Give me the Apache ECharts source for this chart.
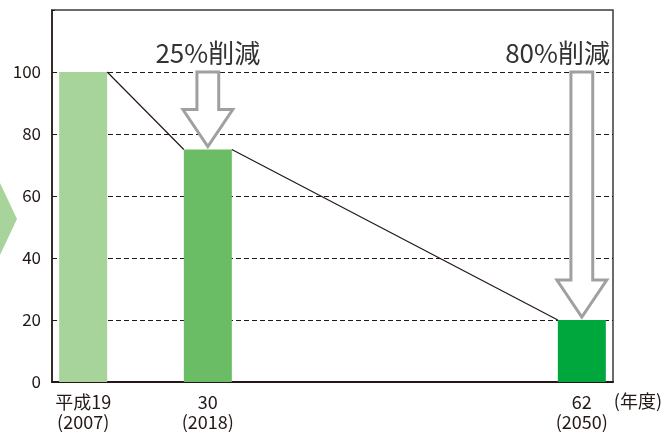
<!DOCTYPE html>
<html>
<head>
<meta charset="utf-8">
<script src="https://cdn.jsdelivr.net/npm/echarts@6/dist/echarts.min.js"></script>
<style>
  html, body { margin: 0; padding: 0; background: #fff; }
  #main { width: 669px; height: 432px; }
</style>
</head>
<body>
<div id="main"></div>
<script>
// 年度スロット (9区分), ラベルは3か所のみ
var tickLabels = ['平成19\n(2007)', '', '30\n(2018)', '', '', '', '', '', '62\n(2050)'];
var values = [100, null, 75, null, null, null, null, null, 20];
var barColors = ['#a6d49a', null, '#6bbd65', null, null, null, null, null, '#00a73c'];
// 削減矢印: [区分, 基準値, 目標値]
var arrows = [[2, 100, 75], [8, 100, 20]];
var arrowLabels = ['25%削減', '80%削減'];
var yTicks = [0, 20, 40, 60, 80, 100];

var FONT = '"Noto Sans CJK JP", "Noto Sans", sans-serif';
var INK = '#231815';
var BAR_RATIO = 0.77;

// 棒の上端を結ぶ線 (右上角 → 次の棒の左上角)
var connectors = [];
var prev = null;
values.forEach(function (v, i) {
  if (v == null) return;
  if (prev) connectors.push([prev[0], prev[1], i, v]);
  prev = [i, v];
});

var chart = echarts.init(document.getElementById('main'));
chart.setOption({
  animation: false,
  textStyle: { fontFamily: FONT },
  grid: {
    left: 52, right: 56, top: 10, bottom: 49,
    show: true, borderColor: '#3e3a39', borderWidth: 1.5
  },
  graphic: [{
    type: 'polygon',
    shape: { points: [[0, 183], [17, 219], [0, 255]] },
    style: { fill: '#a8d49b' }
  }],
  xAxis: {
    type: 'category',
    data: tickLabels.map(function (t, i) { return 'c' + i; }),
    boundaryGap: true,
    axisLine: { lineStyle: { color: INK, width: 2 } },
    axisTick: { inside: true, length: 10, lineStyle: { color: INK, width: 1.5 } },
    axisLabel: {
      interval: 0,
      margin: 10,
      color: INK,
      fontSize: 18,
      lineHeight: 20,
      formatter: function (v, i) { return tickLabels[i]; }
    },
    name: '(年度)',
    nameLocation: 'end',
    nameGap: -5,
    nameTextStyle: { color: INK, fontSize: 18, verticalAlign: 'top', align: 'left', padding: [10, 0, 0, 0] }
  },
  yAxis: {
    type: 'value',
    min: 0, max: 120, interval: 20,
    axisLine: { show: true, lineStyle: { color: INK, width: 1.5 } },
    axisTick: { show: true, inside: true, length: 3, lineStyle: { color: INK } },
    axisLabel: {
      color: INK, fontSize: 17, margin: 11,
      formatter: function (v) { return yTicks.indexOf(v) >= 0 ? String(v) : ''; }
    },
    splitLine: { showMaxLine: false, lineStyle: { color: INK, width: 1, type: [5, 3] } }
  },
  series: [
    {
      type: 'bar',
      barWidth: (BAR_RATIO * 100) + '%',
      z: 3,
      data: values.map(function (v, i) {
        return v == null ? '-' : { value: v, itemStyle: { color: barColors[i] } };
      })
    },
    {
      type: 'custom',
      z: 4,
      encode: { x: [0, 2], y: [1, 3] },
      data: connectors,
      renderItem: function (params, api) {
        var p0 = api.coord([api.value(0), api.value(1)]);
        var p1 = api.coord([api.value(2), api.value(3)]);
        var half = api.size([1, 0])[0] * BAR_RATIO / 2;
        return {
          type: 'line',
          shape: { x1: p0[0] + half, y1: p0[1], x2: p1[0] - half, y2: p1[1] },
          style: { stroke: INK, lineWidth: 1.2 }
        };
      }
    },
    {
      type: 'custom',
      z: 5,
      encode: { x: 0, y: [1, 2] },
      data: arrows,
      renderItem: function (params, api) {
        var top = api.coord([api.value(0), api.value(1)]);
        var tip = api.coord([api.value(0), api.value(2)]);
        var bw = api.size([1, 0])[0];
        var cx = top[0];
        var sw = bw * 0.175, hw = bw * 0.4;
        var tipY = tip[1] - 3;
        var headY = tipY - 37;
        var cs = params.coordSys;
        var label = arrowLabels[params.dataIndex];
        var rightEdge = cs.x + cs.width;
        var align = 'center', tx = cx;
        if (cx + 60 > rightEdge) { align = 'right'; tx = rightEdge - 3; }
        return {
          type: 'group',
          children: [
            {
              type: 'polygon',
              shape: {
                points: [
                  [cx - sw, top[1]], [cx + sw, top[1]], [cx + sw, headY],
                  [cx + hw, headY], [cx, tipY], [cx - hw, headY], [cx - sw, headY]
                ]
              },
              style: { fill: '#fff', stroke: '#a0a0a0', lineWidth: 3, lineJoin: 'miter' }
            },
            {
              type: 'text',
              style: {
                text: label, x: tx, y: top[1] - 19,
                align: align, verticalAlign: 'middle',
                font: '26px ' + FONT, fill: '#333'
              }
            }
          ]
        };
      }
    }
  ]
});
</script>
</body>
</html>
